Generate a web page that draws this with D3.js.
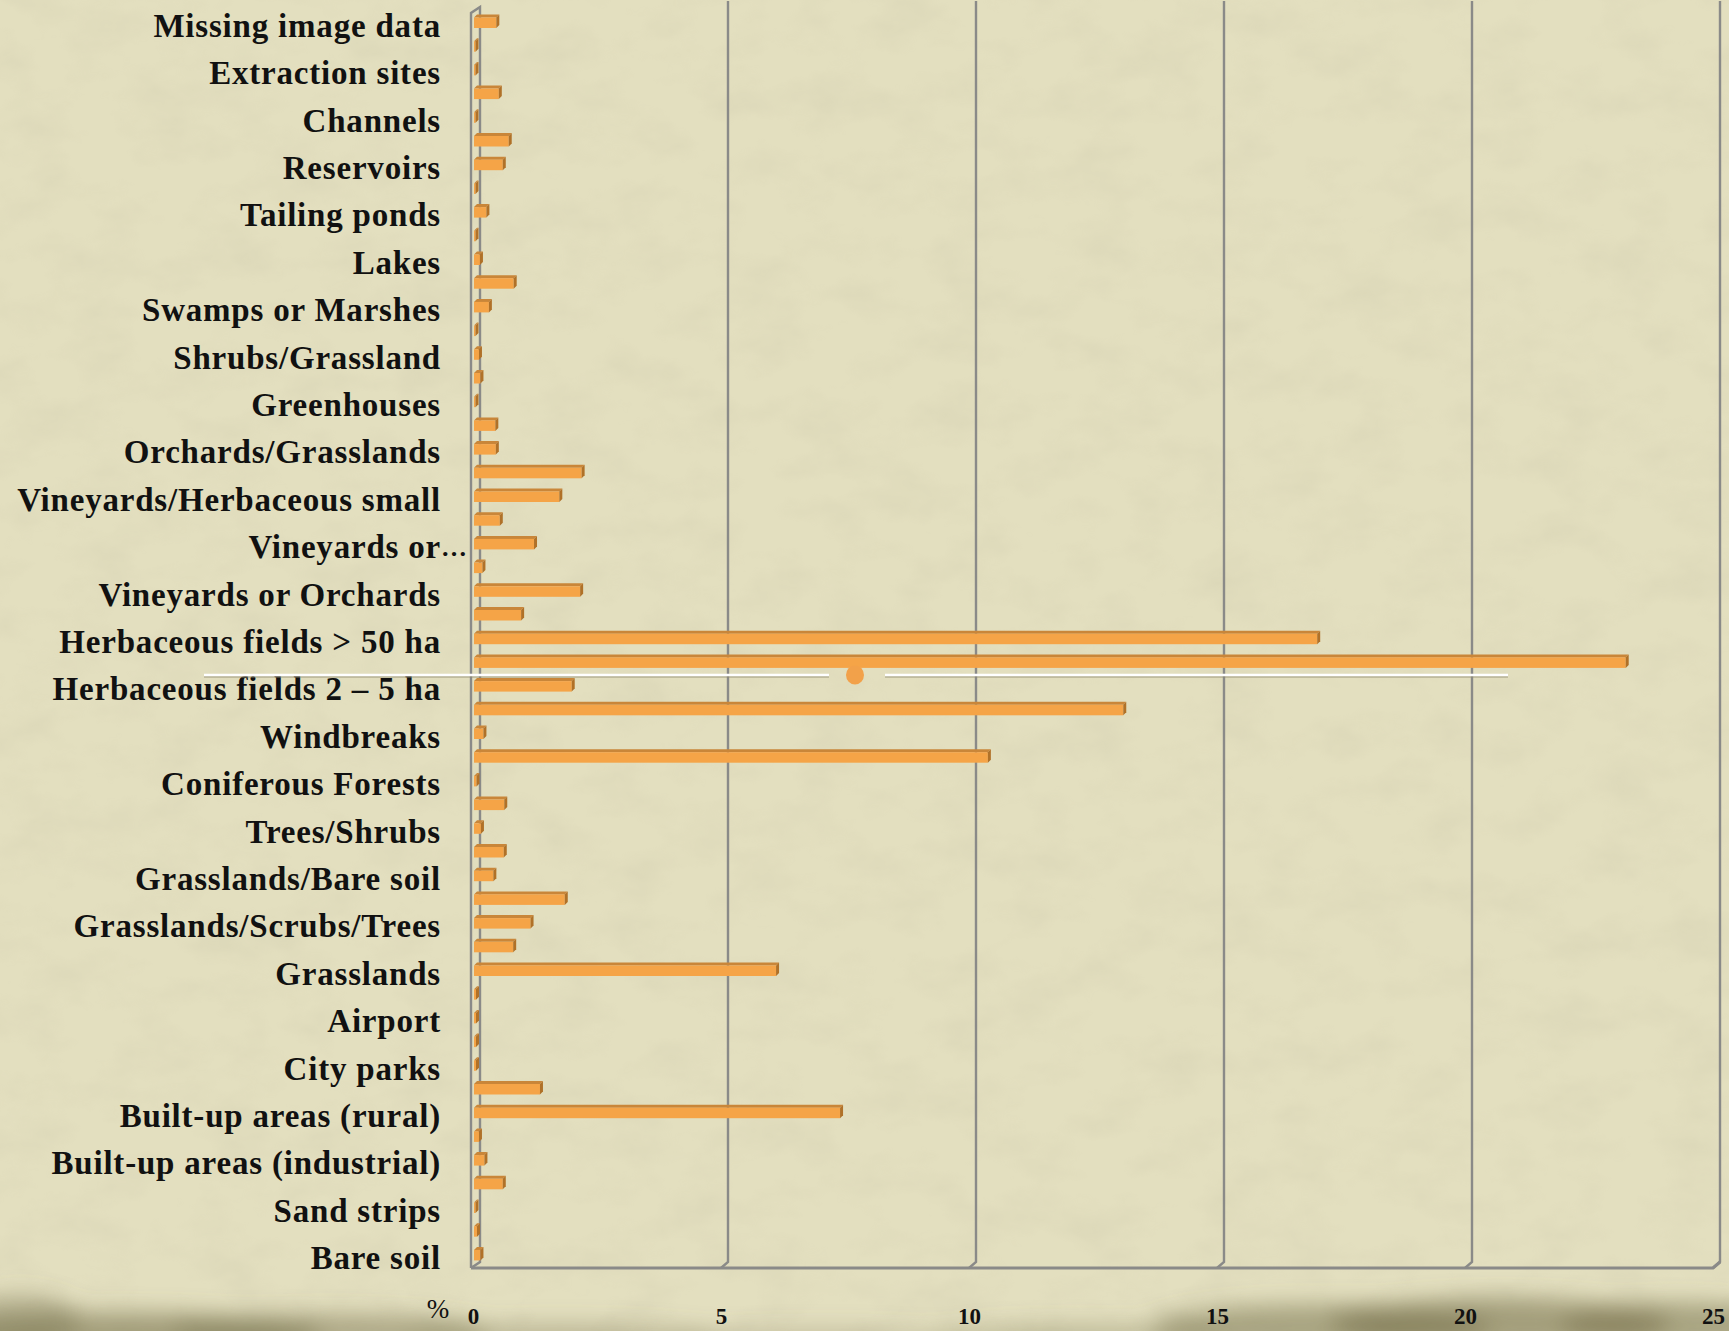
<!DOCTYPE html>
<html>
<head>
<meta charset="utf-8">
<script src="https://cdn.jsdelivr.net/npm/d3@7/dist/d3.min.js"></script>
<style>
  html, body { margin: 0; padding: 0; background: #e2ddbc; }
  svg { display: block; }
</style>
</head>
<body>
<svg id="chart" width="1729" height="1331"></svg>
<script>
// ---- Data (top to bottom as drawn); null = category without a visible label ----
const categories = [
  "Missing image data", null, "Extraction sites", null, "Channels", null,
  "Reservoirs", null, "Tailing ponds", null, "Lakes", null,
  "Swamps or Marshes", null, "Shrubs/Grassland", null, "Greenhouses", null,
  "Orchards/Grasslands", null, "Vineyards/Herbaceous small", null, "Vineyards or…", null,
  "Vineyards or Orchards", null, "Herbaceous fields > 50 ha", null, "Herbaceous fields 2 – 5 ha", null,
  "Windbreaks", null, "Coniferous Forests", null, "Trees/Shrubs", null,
  "Grasslands/Bare soil", null, "Grasslands/Scrubs/Trees", null, "Grasslands", null,
  "Airport", null, "City parks", null, "Built-up areas (rural)", null,
  "Built-up areas (industrial)", null, "Sand strips", null, "Bare soil"
];
const values = [
  0.45, 0.03, 0.03, 0.50, 0.03, 0.70, 0.58, 0.03, 0.25, 0.03, 0.12, 0.80, 0.30, 0.03,
  0.10, 0.13, 0.03, 0.43, 0.44, 2.17, 1.72, 0.52, 1.21, 0.17, 2.14, 0.95, 17.00, 23.22,
  1.97, 13.09, 0.19, 10.36, 0.05, 0.61, 0.14, 0.60, 0.39, 1.83, 1.14, 0.79, 6.09, 0.04,
  0.04, 0.04, 0.04, 1.33, 7.38, 0.10, 0.21, 0.58, 0.03, 0.06, 0.13
];
const xTicks = [0, 5, 10, 15, 20, 25];
const unitLabel = "%";

// ---- Layout ----
const W = 1729, H = 1331;
const svg = d3.select("#chart");
const defs = svg.append("defs");

const x = d3.scaleLinear().domain([0, 25]).range([473, 1713]);
const y = d3.scaleBand().domain(d3.range(categories.length)).range([10.9, 1267]).paddingInner(0).paddingOuter(0);
const DX = 7, DY = 6;       // wall depth
const bd = 3;               // bar depth
const faceH = 10.5;

// ---- Background ----
const noise = defs.append("filter").attr("id", "noise").attr("x", 0).attr("y", 0).attr("width", 1).attr("height", 1);
noise.append("feTurbulence").attr("type", "fractalNoise").attr("baseFrequency", "0.015 0.025").attr("numOctaves", 4).attr("seed", 7).attr("result", "t");
noise.append("feColorMatrix").attr("type", "matrix")
  .attr("values", "0 0 0 0 0.45  0 0 0 0 0.42  0 0 0 0 0.30  0 0 0 0.9 -0.38");
const blur = defs.append("filter").attr("id", "blur").attr("x", "-50%").attr("y", "-50%").attr("width", "200%").attr("height", "200%");
blur.append("feGaussianBlur").attr("stdDeviation", 11);

svg.append("rect").attr("width", W).attr("height", H).attr("fill", "#e3dfbf");
svg.append("rect").attr("width", W).attr("height", H).attr("filter", "url(#noise)").attr("opacity", 0.28);

// bottom grunge band
const grunge = svg.append("g").attr("filter", "url(#blur)").attr("fill", "#7a7450");
[[120, 1336, 200, 24, 0.6], [330, 1332, 160, 18, 0.5], [560, 1338, 160, 14, 0.38],
 [820, 1340, 150, 12, 0.28], [1080, 1338, 150, 14, 0.34], [1320, 1328, 170, 24, 0.55],
 [1500, 1324, 170, 26, 0.6], [1680, 1326, 120, 24, 0.55], [20, 1320, 60, 26, 0.42]]
  .forEach(([cx, cy, rx, ry, o]) => grunge.append("ellipse").attr("cx", cx).attr("cy", cy).attr("rx", rx).attr("ry", ry).attr("opacity", o));

// ---- Plot frame (3D walls) ----
const gridColor = "#8a8a88";
const floorY = y.range()[1] + 1;
const topY = 1;
const frame = svg.append("g").attr("stroke", gridColor).attr("fill", "none").attr("stroke-width", 2.4);

// vertical gridlines on back wall
frame.selectAll("path.grid").data(xTicks.filter(t => t > 0)).join("path").attr("class", "grid")
  .attr("d", t => `M${x(t) + DX},${topY} L${x(t) + DX},${floorY - DY} L${x(t)},${floorY}`);

// left wall
frame.append("path").attr("d", `M${x(0) - 2},${floorY} L${x(0) - 2},${13} L${x(0) + DX},${7} L${x(0) + DX},${floorY - DY} L${x(0) - 2},${floorY}`);
// floor
frame.append("path").attr("stroke-width", 3.2).attr("d", `M${x(0) - 2},${floorY} L${x(25)},${floorY} L${x(25) + DX},${floorY - DY}`);

// ---- Bars ----
const bars = svg.append("g");
categories.forEach((c, i) => {
  const v = values[i];
  const yc = y(i) + y.bandwidth() / 2;
  const x0 = x(0) + 1, x1 = x(v) + 1;
  const yt = yc - faceH / 2, yb = yc + faceH / 2;
  const g = bars.append("g");
  g.append("polygon").attr("fill", "#c98639")
    .attr("points", [[x0, yt], [x1, yt], [x1 + bd, yt - bd], [x0 + bd, yt - bd]].join(" "));
  g.append("rect").attr("x", x0).attr("y", yt).attr("width", Math.max(0, x1 - x0)).attr("height", faceH).attr("fill", "#f5a447");
  g.append("polygon").attr("fill", "#b07128")
    .attr("points", [[x1, yt], [x1 + bd, yt - bd], [x1 + bd, yb - bd], [x1, yb]].join(" "));
});

// ---- Category labels ----
const lab = svg.append("g").attr("font-family", "'Liberation Serif', 'Times New Roman', serif")
  .attr("font-weight", "bold").attr("font-size", 33).attr("letter-spacing", "0.8px").attr("fill", "#111");
categories.forEach((c, i) => {
  if (!c) return;
  const yc = y(i) + y.bandwidth() / 2 + 3;
  if (c.endsWith("…")) {
    lab.append("text").attr("x", 441).attr("y", yc).attr("text-anchor", "end").attr("dominant-baseline", "central").text(c.slice(0, -1));
    lab.append("text").attr("x", 441).attr("y", yc).attr("font-size", 26).attr("letter-spacing", "0px").attr("dominant-baseline", "central").text("…");
  } else {
    lab.append("text").attr("x", 441).attr("y", yc).attr("text-anchor", "end").attr("dominant-baseline", "central").text(c);
  }
});

// ---- X axis tick labels ----
const axisG = svg.append("g").attr("transform", `translate(0,1316)`);
const xAxis = d3.axisBottom(x).tickValues(xTicks).tickSize(0).tickPadding(0).tickFormat(d3.format("d"));
axisG.call(xAxis);
axisG.select(".domain").remove();
axisG.selectAll("text").attr("font-family", "'Liberation Serif', serif").attr("font-weight", "bold")
  .attr("font-size", 23).attr("fill", "#111").attr("dy", "0.35em").attr("y", 0)
  .style("font-variant-numeric", "oldstyle-nums");
svg.append("text").attr("x", 438).attr("y", 1309).attr("text-anchor", "middle").attr("dominant-baseline", "central")
  .attr("font-family", "'Liberation Serif', serif").attr("font-size", 27).attr("fill", "#111").text(unitLabel);

// ---- Decorative slide divider (white line with orange dot) ----
const deco = svg.append("g");
[[204, 829], [885, 1508]].forEach(([a, b]) => {
  deco.append("line").attr("x1", a).attr("x2", b).attr("y1", 676.5).attr("y2", 676.5)
    .attr("stroke", "#8f8b70").attr("stroke-opacity", 0.55).attr("stroke-width", 2.5);
  deco.append("line").attr("x1", a).attr("x2", b).attr("y1", 675).attr("y2", 675)
    .attr("stroke", "#ffffff").attr("stroke-width", 2.5);
});
deco.append("ellipse").attr("cx", 855).attr("cy", 675).attr("rx", 9).attr("ry", 9.5).attr("fill", "#f2a14a");
</script>
</body>
</html>
